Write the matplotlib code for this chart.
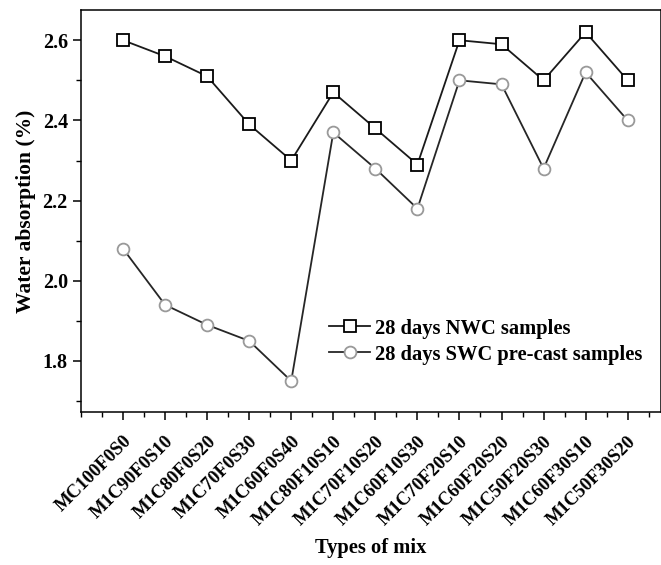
import matplotlib
matplotlib.use("Agg")
import matplotlib.pyplot as plt
import numpy as np
from matplotlib.ticker import MultipleLocator

mixes = [
    "MC100F0S0", "M1C90F0S10", "M1C80F0S20", "M1C70F0S30", "M1C60F0S40",
    "M1C80F10S10", "M1C70F10S20", "M1C60F10S30", "M1C70F20S10", "M1C60F20S20",
    "M1C50F20S30", "M1C60F30S10", "M1C50F30S20",
]
nwc = [2.60, 2.56, 2.51, 2.39, 2.30, 2.47, 2.38, 2.29, 2.60, 2.59, 2.50, 2.62, 2.50]
swc = [2.08, 1.94, 1.89, 1.85, 1.75, 2.37, 2.28, 2.18, 2.50, 2.49, 2.28, 2.52, 2.40]

plt.rcParams.update({
    "font.family": "Liberation Serif",
    "font.weight": "bold",
    "axes.labelweight": "bold",
})

fig = plt.figure(figsize=(6.61, 5.65), dpi=100)
ax = fig.add_axes([0.1225, 0.271, 0.878, 0.711])

x = np.arange(len(mixes))
ax.plot(x, nwc, color="0.1", lw=1.3, marker="s", ms=8, mfc="white", mec="black",
        mew=1.3, label="28 days NWC samples")
ax.plot(x, swc, color="0.15", lw=1.3, marker="o", ms=8.5, mfc="white", mec="0.6",
        mew=1.3, label="28 days SWC pre-cast samples")

ax.set_xlim(-1, 12.8)
ax.set_ylim(1.673, 2.675)
ax.set_xticks(x)
ax.set_xticklabels(mixes, rotation=45, ha="right", rotation_mode="anchor", fontsize=13.5)
ax.xaxis.set_minor_locator(MultipleLocator(0.5))
ax.yaxis.set_major_locator(MultipleLocator(0.2))
ax.yaxis.set_minor_locator(MultipleLocator(0.1))
ax.tick_params(axis="both", which="major", direction="out", length=6, width=1.1)
ax.tick_params(axis="y", which="major", labelsize=14.5)
ax.tick_params(axis="both", which="minor", direction="out", length=3.5, width=1.0)
ax.tick_params(axis="x", pad=9)
for side in ("left", "bottom", "top", "right"):
    ax.spines[side].set_linewidth(1.1)

ax.set_ylabel("Water absorption (%)", fontsize=15.5, labelpad=5)
ax.set_xlabel("Types of mix", fontsize=14.8, labelpad=7)

ax.legend(loc="center left", bbox_to_anchor=(0.428, 0.175), frameon=False,
          fontsize=14.8, handlelength=2.0, handletextpad=0.2, borderaxespad=0.0,
          borderpad=0.0, labelspacing=0.3)

fig.savefig("out.png", dpi=100)
